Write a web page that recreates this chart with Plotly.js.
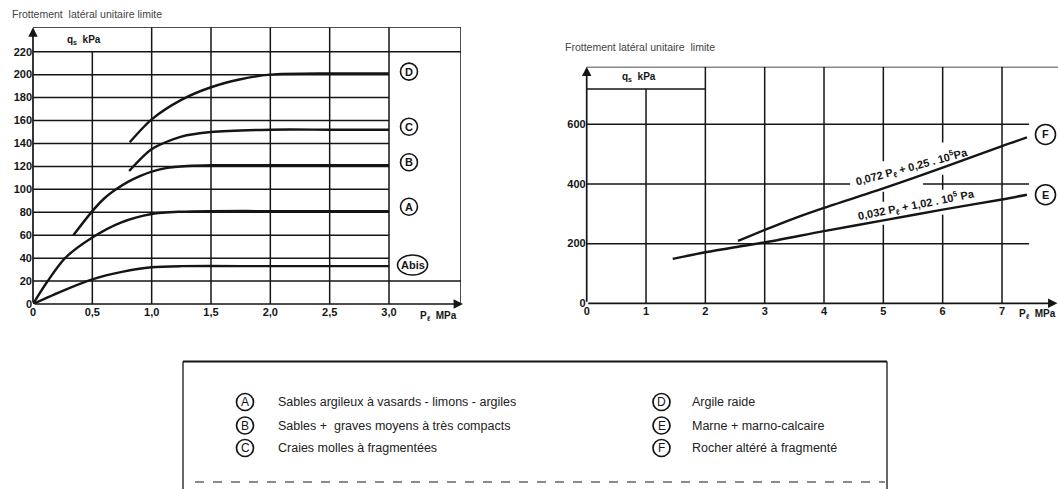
<!DOCTYPE html>
<html><head><meta charset="utf-8">
<script src="https://cdn.plot.ly/plotly-3.0.1.min.js"></script>
<style>html,body{margin:0;padding:0;background:#fff}#chart{width:1058px;height:489px}</style>
</head><body><div id="chart"></div>
<script>
// ---------------- data ----------------
const leftTitle = 'Frottement  latéral unitaire limite';
const rightTitle = 'Frottement latéral unitaire  limite';
const leftXTicks = [0, 0.5, 1.0, 1.5, 2.0, 2.5, 3.0];
const leftXTickText = ['0', '0,5', '1,0', '1,5', '2,0', '2,5', '3,0'];
const leftYTicks = [0, 20, 40, 60, 80, 100, 120, 140, 160, 180, 200, 220];
const rightXTicks = [0, 1, 2, 3, 4, 5, 6, 7];
const rightYTicks = [0, 200, 400, 600];

const curveD_x = [0.815, 1.0, 1.25, 1.5, 1.75, 2.0, 2.5, 3.0];
const curveD_y = [141, 161, 178, 189, 196, 200, 201, 201];
const curveC_x = [0.81, 1.0, 1.25, 1.5, 2.0, 2.5, 3.0];
const curveC_y = [116, 135, 146, 150, 152, 152, 152];
const curveB_x = [0.34, 0.5, 0.6, 0.7, 0.8, 0.9, 1.0, 1.12, 1.3, 1.5, 2.0, 3.0];
const curveB_y = [60, 81, 92, 100, 106.5, 111.5, 115.5, 118.5, 120.3, 121, 121, 121];
const curveA_x = [0, 0.124, 0.27, 0.5, 0.74, 1.0, 1.25, 1.5, 2.0, 3.0];
const curveA_y = [0, 20, 40, 58, 71, 78.5, 80.5, 81, 81, 81];
const curveAbis_x = [0, 0.25, 0.5, 0.75, 1.0, 1.25, 2.0, 3.0];
const curveAbis_y = [0, 11.5, 21.5, 28, 32, 33, 33, 33];

const curveF_x = [2.55, 3, 3.5, 4, 5, 6, 7, 7.42];
const curveF_y = [209, 246, 285, 320, 385, 455, 527, 556];
const curveE_x = [1.45, 2, 2.5, 3, 4, 5, 6, 7, 7.42];
const curveE_y = [149, 171, 188, 204, 242, 278, 314, 348, 364];

const leftLabels = ['D', 'C', 'B', 'A', 'Abis'];
const rightLabels = ['F', 'E'];
const formulaF = '0,072 P<sub>ℓ</sub> + 0,25 . 10<sup>5</sup>Pa';
const formulaE = '0,032 P<sub>ℓ</sub> + 1,02 . 10<sup>5</sup> Pa';
const axisUnitX = 'P<sub>ℓ</sub>  MPa';
const axisUnitY = 'q<sub>s</sub>  kPa';

const legendLetters = ['A', 'B', 'C', 'D', 'E', 'F'];
const legendTexts = [
  'Sables argileux à vasards - limons - argiles',
  'Sables +  graves moyens à très compacts',
  'Craies molles à fragmentées',
  'Argile raide',
  'Marne + marno-calcaire',
  'Rocher altéré à fragmenté'
];

// ---------------- geometry ----------------
const W = 1058, H = 489;
const px = p => p / W, py = p => 1 - p / H;
const INK = '#151515';
const FONT = 'Liberation Sans, Arial, sans-serif';

// left panel
const L = {x0: 33, x3: 389, xR: 461, y0: 304, y220: 51.7, yT: 27.3};
const sx1 = (L.x3 - L.x0) / 3, sy1 = (L.y0 - L.y220) / 220;
const xMax1 = (L.xR - L.x0) / sx1, yMax1 = (L.y0 - L.yT) / sy1;
// right panel
const R = {x0: 586.7, x7: 1002, y0: 303.3, y600: 124.3, yT: 66.7, yHead: 89, xLine: 1029};
const sx2 = (R.x7 - R.x0) / 7, sy2 = (R.y0 - R.y600) / 600;
const xMax2 = (W - R.x0) / sx2, yMax2 = (R.y0 - R.yT) / sy2;
const yHead2 = (R.y0 - R.yHead) / sy2;
const xLineEnd2 = (R.xLine - R.x0) / sx2;

const shapes = [];
const gl = (xr, yr, x0, y0, x1, y1, w) => shapes.push({
  type: 'line', xref: xr, yref: yr, x0, y0, x1, y1, layer: 'below',
  line: {color: INK, width: w || 1.5}
});

// left grid
leftYTicks.forEach(v => {
  if (v === 0) return;
  const end = (v === 20 || v === 220) ? xMax1 : leftXTicks[leftXTicks.length - 1];
  gl('x', 'y', 0, v, end, v);
});
gl('x', 'y', 0, yMax1, xMax1, yMax1);           // top border
gl('x', 'y', xMax1, 0, xMax1, yMax1);           // right border
leftXTicks.forEach(v => {
  if (v === 0) return;
  const top = v < 1 ? leftYTicks[leftYTicks.length - 1] : yMax1;
  gl('x', 'y', v, 0, v, top);
});

// right grid
rightYTicks.forEach(v => {
  if (v === 0) return;
  if (v === 400) { gl('x2', 'y2', 0, v, 4.44, v); gl('x2', 'y2', 5.67, v, xLineEnd2, v); }
  else gl('x2', 'y2', 0, v, xLineEnd2, v);
});
gl('x2', 'y2', 0, yMax2, xMax2, yMax2);          // top border
gl('x2', 'y2', 0, yHead2, 2, yHead2);            // header box
rightXTicks.forEach(v => {
  if (v === 0) return;
  if (v === 1) { gl('x2', 'y2', v, 0, v, yHead2); return; }
  if (v === 5) { gl('x2', 'y2', v, 0, v, 263); gl('x2', 'y2', v, 340, v, 374); gl('x2', 'y2', v, 476, v, yMax2); return; }
  if (v === 6) { gl('x2', 'y2', v, 0, v, 297); gl('x2', 'y2', v, 381, v, 431); gl('x2', 'y2', v, 539, v, yMax2); return; }
  gl('x2', 'y2', v, 0, v, yMax2);
});

// circled labels
const annotations = [];
const circ = (xr, yr, xa, ya, rx, ry, text, fsize, weight, lw) => {
  shapes.push({type: 'circle', xref: xr, yref: yr, xsizemode: 'pixel', ysizemode: 'pixel',
    xanchor: xa, yanchor: ya, x0: -rx, x1: rx, y0: -ry, y1: ry, line: {color: INK, width: lw || 1.6}});
  annotations.push({xref: xr, yref: yr, x: xa, y: ya, xanchor: 'center', yanchor: 'middle', text, showarrow: false,
    font: {family: FONT, size: fsize || 11, color: INK, weight: weight || 'bold'}});
};
const leftEnds = [curveD_y, curveC_y, curveB_y, curveA_y, curveAbis_y].map(a => a[a.length - 1]);
const leftLabelX = (409 - L.x0) / sx1;
leftLabels.forEach((t, i) => {
  const off = [1.6, 2.6, 2.6, 3.8, 1][i];
  circ('x', 'y', leftLabelX + (t === 'Abis' ? 0.03 : 0), leftEnds[i] + off, t === 'Abis' ? 15 : 8.5, t === 'Abis' ? 10 : 8.5, t);
});
const rightEnds = [curveF_y, curveE_y].map(a => a[a.length - 1]);
const rightLabelX = (1045.5 - R.x0) / sx2;
rightLabels.forEach((t, i) => circ('x2', 'y2', rightLabelX, rightEnds[i] + [10, 0][i], 10, 10, t));

// axis arrows
const arrow = (xr, yr, x, y) => annotations.push({xref: xr, yref: yr, axref: xr, ayref: yr,
  x, y, ax: 0, ay: 0, text: '', showarrow: true, arrowhead: 2, arrowsize: 1.1, arrowwidth: 1.7, arrowcolor: INK});
arrow('x', 'y', 0, yMax1);
arrow('x', 'y', (463 - L.x0) / sx1, 0);
arrow('x2', 'y2', 0, yMax2);
arrow('x2', 'y2', xMax2 - 0.01, 0);

// text annotations
const bold = (s) => ({family: FONT, size: s || 10, color: INK, weight: 'bold'});
const lt = (x, y, text, font, extra) => annotations.push(Object.assign({xref: 'paper', yref: 'paper',
  x: px(x), y: py(y), xanchor: 'left', yanchor: 'middle', text, showarrow: false, font}, extra || {}));
lt(10, 14, leftTitle, {family: FONT, size: 10.5, color: '#444'});
lt(563, 47.3, rightTitle, {family: FONT, size: 10.5, color: '#444'});
lt(65, 40, axisUnitY, bold());
lt(620, 76.7, axisUnitY, bold());
lt(418, 316, axisUnitX, bold());
lt(1017, 314, axisUnitX, bold());
annotations.push(
  {xref: 'x2', yref: 'y2', x: 5.48, y: 458, text: formulaF, showarrow: false, textangle: -15, font: bold(11)},
  {xref: 'x2', yref: 'y2', x: 5.56, y: 331, text: formulaE, showarrow: false, textangle: -11, font: bold(11)}
);

// legend box
shapes.push(
  {type: 'line', xref: 'paper', yref: 'paper', x0: px(183), x1: px(887), y0: py(361.5), y1: py(361.5), line: {color: INK, width: 2}},
  {type: 'line', xref: 'paper', yref: 'paper', x0: px(183), x1: px(183), y0: py(361.5), y1: py(495), line: {color: INK, width: 1.3}},
  {type: 'line', xref: 'paper', yref: 'paper', x0: px(887), x1: px(887), y0: py(361.5), y1: py(495), line: {color: INK, width: 1.3}},
  {type: 'line', xref: 'paper', yref: 'paper', x0: px(195), x1: px(885), y0: py(482), y1: py(482), line: {color: '#8a8a8a', width: 2, dash: 'dash'}}
);
const rowsY = [402, 425.5, 448];
legendTexts.forEach((t, i) => {
  const col = i < 3 ? 0 : 1, row = i % 3;
  const cx = col === 0 ? 245 : 661.5, tx = col === 0 ? 276 : 690;
  circ('paper', 'paper', px(cx), py(rowsY[row]), 8.5, 8.5, legendLetters[i], 12, 500, 1.7);
  lt(tx, rowsY[row], t, {family: FONT, size: 12.5, color: '#222'});
});

// traces
const lineStyle = {color: INK, width: 2.4, shape: 'spline', smoothing: 0.8};
const tr = (x, y, xa, ya, name) => ({x, y, xaxis: xa, yaxis: ya, name, mode: 'lines', line: lineStyle, hoverinfo: 'skip'});
const data = [
  tr(curveD_x, curveD_y, 'x', 'y', 'D'),
  tr(curveC_x, curveC_y, 'x', 'y', 'C'),
  tr(curveB_x, curveB_y, 'x', 'y', 'B'),
  tr(curveA_x, curveA_y, 'x', 'y', 'A'),
  tr(curveAbis_x, curveAbis_y, 'x', 'y', 'Abis'),
  tr(curveF_x, curveF_y, 'x2', 'y2', 'F'),
  tr(curveE_x, curveE_y, 'x2', 'y2', 'E')
];

const tickFont = {family: FONT, size: 11, color: INK, weight: 'bold'};
const ax = (domain, range, tickvals, ticktext, anchor) => ({
  domain, range, tickvals, ticktext, anchor, showgrid: false, zeroline: false, showline: false,
  ticks: '', tickfont: tickFont, fixedrange: true
});
const layout = {
  width: W, height: H, margin: {l: 0, r: 0, t: 0, b: 0},
  paper_bgcolor: '#fff', plot_bgcolor: 'rgba(0,0,0,0)', showlegend: false,
  xaxis: ax([px(L.x0), px(L.xR)], [0, xMax1], leftXTicks, leftXTickText, 'y'),
  yaxis: ax([py(L.y0), py(L.yT)], [0, yMax1], leftYTicks, leftYTicks.map(String), 'x'),
  xaxis2: ax([px(R.x0), 1], [0, xMax2], rightXTicks, rightXTicks.map(String), 'y2'),
  yaxis2: ax([py(R.y0), py(R.yT)], [0, yMax2], rightYTicks, rightYTicks.map(String), 'x2'),
  shapes, annotations
};
Plotly.newPlot('chart', data, layout, {staticPlot: true, displayModeBar: false});
</script></body></html>
